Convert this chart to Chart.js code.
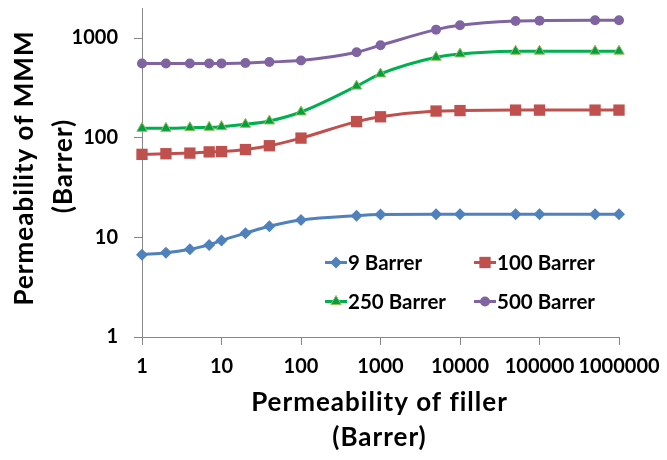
<!DOCTYPE html>
<html>
<head>
<meta charset="utf-8">
<script src="https://cdn.jsdelivr.net/npm/chart.js@4.4.1/dist/chart.umd.min.js"></script>
<style>
html,body{margin:0;padding:0;background:#fff;}
#wrap{width:667px;height:460px;}
</style>
</head>
<body>
<div id="wrap"><canvas id="c" width="667" height="460"></canvas></div>
<script>
const fillerPerm = [1, 2, 4, 7, 10, 20, 40, 100, 500, 1000, 5000, 10000, 50000, 100000, 500000, 1000000];
const series9   = [6.7, 7.0, 7.6, 8.4, 9.3, 11.0, 12.9, 14.9, 16.5, 16.9, 17.0, 17.0, 17.0, 17.0, 17.0, 17.0];
const series100 = [68, 69, 70, 72, 72.5, 76, 83, 99, 145, 162, 185, 187, 189, 189, 189, 189];
const series250 = [124, 124, 126, 127, 129, 136, 147, 181, 329, 436, 641, 692, 736, 738, 738, 738];
const series500 = [555, 555, 555, 556, 556, 562, 575, 594, 719, 845, 1213, 1340, 1480, 1493, 1510, 1505];
const seriesLabels = ['9 Barrer', '100 Barrer', '250 Barrer', '500 Barrer'];
const yTicks = [1, 10, 100, 1000];
const xTicks = [1, 10, 100, 1000, 10000, 100000, 1000000];
const xTitle = ['Permeability of filler', '(Barrer)'];
const yTitle = ['Permeability of MMM', '(Barrer)'];

const FONT = 'Lato, "Open Sans", sans-serif';
const AX = '#868686';

function ds(label, data, color, style, radius, ptBorder) {
  return {
    label, data: fillerPerm.map((x, i) => ({x, y: data[i]})),
    borderColor: color, backgroundColor: color,
    pointBackgroundColor: color, pointBorderColor: ptBorder || color,
    pointBorderWidth: ptBorder ? 1 : 0,
    pointStyle: style, pointRadius: radius, pointHoverRadius: radius,
    borderWidth: 3, cubicInterpolationMode: 'monotone', clip: false
  };
}

const datasets = [
  ds(seriesLabels[0], series9, '#4F81BD', 'rectRot', 6),
  ds(seriesLabels[1], series100, '#C0504D', 'rect', 8),
  ds(seriesLabels[2], series250, '#00B050', 'triangle', 6, '#9BBB59'),
  ds(seriesLabels[3], series500, '#8064A2', 'circle', 5)
];
datasets[2].pointBackgroundColor = '#00A040';

function marker(ctx, style, r, x, y, fill, stroke, bw) {
  ctx.save();
  ctx.fillStyle = fill; ctx.strokeStyle = stroke; ctx.lineWidth = bw;
  ctx.beginPath();
  if (style === 'circle') ctx.arc(x, y, r, 0, Math.PI * 2);
  else if (style === 'rect') { const s = r * Math.SQRT1_2; ctx.rect(x - s, y - s, 2 * s, 2 * s); }
  else if (style === 'rectRot') { ctx.moveTo(x - r, y); ctx.lineTo(x, y - r); ctx.lineTo(x + r, y); ctx.lineTo(x, y + r); ctx.closePath(); }
  else if (style === 'triangle') {
    ctx.moveTo(x, y - r);
    ctx.lineTo(x + r * Math.sin(Math.PI * 2 / 3), y - r * Math.cos(Math.PI * 2 / 3));
    ctx.lineTo(x + r * Math.sin(Math.PI * 4 / 3), y - r * Math.cos(Math.PI * 4 / 3));
    ctx.closePath();
  }
  ctx.fill();
  if (bw > 0) ctx.stroke();
  ctx.restore();
}

const overlay = {
  id: 'overlay',
  afterDraw(chart) {
    const ctx = chart.ctx;
    const ca = chart.chartArea;
    const pos = [[325, 262.5], [474, 262.5], [325, 301.5], [474, 301.5]];
    chart.data.datasets.forEach((d, i) => {
      const [lx, ly] = pos[i];
      ctx.save();
      ctx.strokeStyle = d.borderColor; ctx.lineWidth = 3;
      ctx.beginPath(); ctx.moveTo(lx, ly); ctx.lineTo(lx + 22, ly); ctx.stroke();
      ctx.restore();
      marker(ctx, d.pointStyle, d.pointRadius, lx + 11, ly, d.pointBackgroundColor, d.pointBorderColor, d.pointBorderWidth);
      ctx.save();
      ctx.fillStyle = '#000'; ctx.font = 'bold 20.5px ' + FONT;
      ctx.textAlign = 'left'; ctx.textBaseline = 'middle';
      ctx.fillText(d.label, lx + 23, ly + 1);
      ctx.restore();
    });
    ctx.save();
    ctx.fillStyle = '#000';
    ctx.font = 'bold 26px ' + FONT;
    try { ctx.letterSpacing = '1px'; } catch (e) {}
    ctx.textAlign = 'center'; ctx.textBaseline = 'alphabetic';
    const cx = (ca.left + ca.right) / 2 - 1;
    ctx.fillText(xTitle[0], cx, 411);
    ctx.fillText(xTitle[1], cx, 446);
    ctx.save();
    ctx.translate(33, 168); ctx.rotate(-Math.PI / 2);
    ctx.fillText(yTitle[0], 0, 0);
    ctx.restore();
    ctx.save();
    ctx.translate(72, 166); ctx.rotate(-Math.PI / 2);
    ctx.fillText(yTitle[1], 0, 0);
    ctx.restore();
    ctx.restore();
  }
};

new Chart(document.getElementById('c'), {
  type: 'line',
  data: { datasets },
  options: {
    responsive: false, animation: false,
    layout: { padding: { left: 0, top: 7, right: 48, bottom: 0 } },
    plugins: { legend: { display: false }, tooltip: { enabled: false } },
    scales: {
      x: {
        type: 'logarithmic', min: 1, max: 1000000,
        afterBuildTicks: s => { s.ticks = xTicks.map(v => ({ value: v })); },
        afterFit: s => { s.height = 123; s.paddingLeft = 0; s.paddingRight = 0; s.paddingTop = 0; s.paddingBottom = 0; },
        ticks: { autoSkip: false, maxRotation: 0, padding: 10, color: '#000',
          font: { family: FONT, size: 20, weight: 'bold' }, callback: v => String(v) },
        grid: { drawOnChartArea: false, drawTicks: true, tickLength: 8, color: AX, lineWidth: 1 },
        border: { display: true, color: AX, width: 1 }
      },
      y: {
        type: 'logarithmic', min: 1, max: 2000,
        afterBuildTicks: s => { s.ticks = yTicks.map(v => ({ value: v })); },
        afterFit: s => { s.width = 142; s.paddingLeft = 0; s.paddingRight = 0; s.paddingTop = 0; s.paddingBottom = 0; },
        ticks: { autoSkip: false, padding: 16, color: '#000',
          font: { family: FONT, size: 20, weight: 'bold' }, callback: v => String(v) },
        grid: { drawOnChartArea: false, drawTicks: true, tickLength: 8, color: AX, lineWidth: 1 },
        border: { display: true, color: AX, width: 1 }
      }
    }
  },
  plugins: [overlay]
});
</script>
</body>
</html>
